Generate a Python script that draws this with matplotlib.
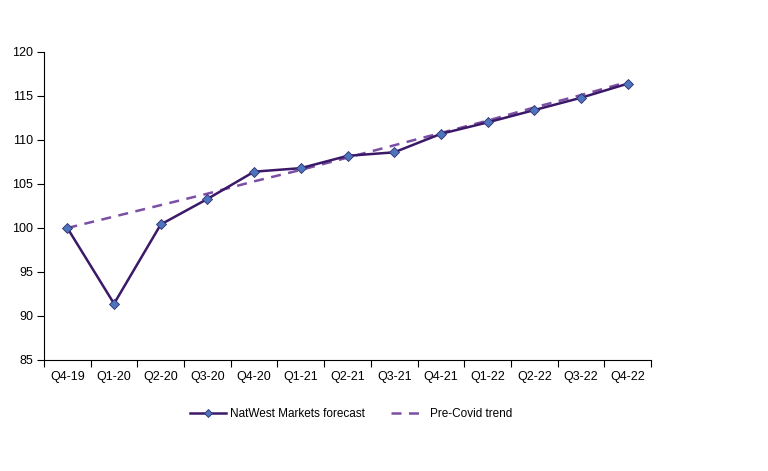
import matplotlib
matplotlib.use("Agg")
import matplotlib.pyplot as plt
import numpy as np

plt.rcParams['font.family'] = ['Liberation Sans', 'DejaVu Sans']

quarters = ["Q4-19", "Q1-20", "Q2-20", "Q3-20", "Q4-20", "Q1-21", "Q2-21",
            "Q3-21", "Q4-21", "Q1-22", "Q2-22", "Q3-22", "Q4-22"]
forecast = [100.0, 91.4, 100.4, 103.3, 106.4, 106.8, 108.2, 108.6, 110.7,
            112.0, 113.4, 114.8, 116.4]
trend = [100.0, 101.3, 102.6, 103.9, 105.3, 106.6, 108.0, 109.4, 110.8,
         112.2, 113.7, 115.1, 116.6]
yticks = [85, 90, 95, 100, 105, 110, 115, 120]

fig = plt.figure(figsize=(7.68, 4.71), dpi=100)
ax = fig.add_axes([0.0573, 0.2357, 0.7904, 0.6539])

x = np.arange(len(quarters))
ax.plot(x, trend, linestyle=(0, (4, 3)), color='#7B4FA3', linewidth=1.8,
        label='Pre-Covid trend', zorder=2)
ax.plot(x, forecast, color='#3B1868', linewidth=1.8, marker='D', markersize=5.5,
        markerfacecolor='#4F74BE', markeredgecolor='#2E2F6E', markeredgewidth=0.6,
        label='NatWest Markets forecast', zorder=3)

ax.set_xlim(-0.5, len(quarters) - 0.5)
ax.set_ylim(85, 120)
ax.set_yticks(yticks)
ax.set_yticklabels([str(v) for v in yticks])
ax.set_xticks(x)
ax.set_xticklabels(quarters)
ax.set_xticks(np.arange(-0.5, len(quarters), 1.0), minor=True)
ax.tick_params(axis='x', which='major', length=0, pad=8, labelsize=9)
ax.tick_params(axis='x', which='minor', length=5, width=0.8, direction='out')
ax.tick_params(axis='y', length=5, width=0.8, direction='out', labelsize=9, pad=3)

for s in ['top', 'right']:
    ax.spines[s].set_visible(False)
for s in ['left', 'bottom']:
    ax.spines[s].set_linewidth(0.8)
    ax.spines[s].set_color('black')

h, l = ax.get_legend_handles_labels()
fig.legend(h[::-1], l[::-1], loc='center', bbox_to_anchor=(0.4577, 0.121), ncol=2,
           frameon=False, fontsize=8.5, handlelength=3.0, columnspacing=2.2,
           handletextpad=0.35, markerscale=0.8)

fig.savefig('out.png', dpi=100)
